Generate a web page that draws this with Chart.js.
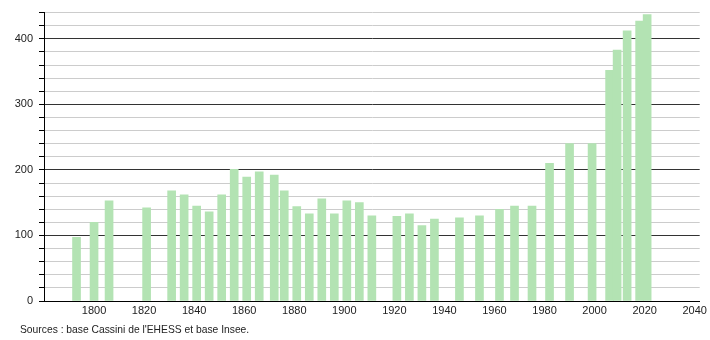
<!DOCTYPE html>
<html>
<head>
<meta charset="utf-8">
<script src="https://cdn.jsdelivr.net/npm/chart.js@4"></script>
<style>
  body { margin: 0; background: #fff; }
</style>
</head>
<body>
<canvas id="myChart" width="710" height="340"></canvas>
<script>
let years = [1793, 1800, 1806, 1821, 1831, 1836, 1841, 1846, 1851, 1856, 1861, 1866, 1872, 1876, 1881, 1886, 1891, 1896, 1901, 1906, 1911, 1921, 1926, 1931, 1936, 1946, 1954, 1962, 1968, 1975, 1982, 1990, 1999, 2006, 2009, 2013, 2018, 2021]
let population = [97, 120, 153, 142, 168, 162, 145, 136, 162, 201, 189, 197, 192, 168, 144, 133, 156, 133, 153, 150, 130, 129, 133, 115, 125, 127, 130, 140, 145, 145, 210, 240, 240, 352, 383, 412, 427, 437]
let xTicks = [1800, 1820, 1840, 1860, 1880, 1900, 1920, 1940, 1960, 1980, 2000, 2020, 2040]
let sourceText = "Sources : base Cassini de l'EHESS et base Insee."

let points = years.map((y, i) => ({ x: y, y: population[i] }))

let sourcePlugin = {
    id: 'sources',
    afterDraw(chart) {
        let c = chart.ctx
        c.save()
        c.font = '10.3px "Liberation Sans", Arial, sans-serif'
        c.fillStyle = '#222'
        c.textBaseline = 'middle'
        c.fillText(sourceText, 20, 330)
        c.restore()
    }
}

let ctx = document.getElementById("myChart").getContext("2d")

let myChart = new Chart(ctx, {
    type: 'bar',
    data: {
        datasets: [{
            data: points,
            backgroundColor: '#b3e3b3',
            barThickness: 8,
        }],
    },
    options: {
        responsive: false,
        animation: false,
        layout: { padding: { left: 0, top: 10, right: 9, bottom: 19 } },
        plugins: {
            legend: { display: false },
            tooltip: { enabled: false },
        },
        scales: {
            x: {
                type: 'linear',
                offset: false,
                min: 1780,
                max: 2042,
                grid: { display: false, drawTicks: false },
                border: { color: '#000', width: 1 },
                afterBuildTicks: scale => {
                    scale.ticks = xTicks.map(v => ({ value: v }))
                },
                afterFit: scale => { scale.height = 20 },
                ticks: {
                    autoSkip: false,
                    maxRotation: 0,
                    padding: 3,
                    color: '#222',
                    font: { family: '"Liberation Sans", Arial, sans-serif', size: 11 },
                    callback: v => String(v),
                },
            },
            y: {
                min: 0,
                max: 440,
                afterFit: scale => { scale.width = 44 },
                border: { color: '#000', width: 1 },
                grid: {
                    color: c => (c.tick.value % 100 === 0 ? '#333' : '#ccc'),
                    tickColor: '#000',
                    tickLength: 5,
                },
                ticks: {
                    stepSize: 20,
                    autoSkip: false,
                    padding: 6,
                    color: '#222',
                    font: { family: '"Liberation Sans", Arial, sans-serif', size: 11 },
                    callback: v => (v % 100 === 0 ? v : ''),
                },
            },
        },
    },
    plugins: [sourcePlugin],
})
</script>
</body>
</html>
